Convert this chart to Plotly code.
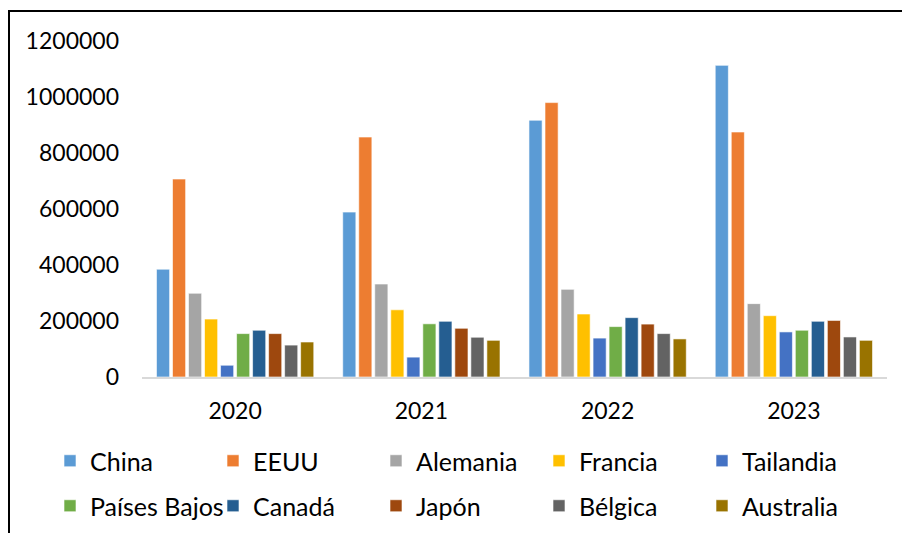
import plotly.graph_objects as go

# Annual values per country
years = ["2020", "2021", "2022", "2023"]
countries = ["China", "EEUU", "Alemania", "Francia", "Tailandia",
             "Países Bajos", "Canadá", "Japón", "Bélgica", "Australia"]

china = [385000, 589000, 917000, 1113000]
eeuu = [707000, 857000, 980000, 875000]
alemania = [299000, 332000, 313000, 262000]
francia = [207000, 240000, 225000, 219000]
tailandia = [42000, 71000, 139000, 161000]
paises_bajos = [155000, 190000, 180000, 167000]
canada = [167000, 199000, 212000, 199000]
japon = [155000, 174000, 189000, 202000]
belgica = [114000, 142000, 155000, 143000]
australia = [125000, 131000, 136000, 131000]

series = [china, eeuu, alemania, francia, tailandia,
          paises_bajos, canada, japon, belgica, australia]
colors = ["#5B9BD5", "#ED7D31", "#A5A5A5", "#FFC000", "#4472C4",
          "#70AD47", "#255E91", "#9E480E", "#636363", "#997300"]

W, H = 902, 533
ML, MR, MT, MB = 142, 15, 41, 156
PW, PH = W - ML - MR, H - MT - MB

def px_x(x):
    return (x - ML) / PW

def px_y(y):
    return (H - MB - y) / PH

FONT = "Lato, 'Century Gothic', sans-serif"

fig = go.Figure()
for i, (name, vals, col) in enumerate(zip(countries, series, colors)):
    fig.add_trace(go.Bar(
        x=years, y=vals, name=name,
        marker=dict(color=col, line=dict(color="rgba(255,255,255,0.6)", width=1)),
        legend="legend" if i < 5 else "legend2",
    ))

legend_common = dict(
    orientation="h", xanchor="left", yanchor="middle",
    font=dict(family=FONT, size=25, color="#000000"),
    entrywidth=118, entrywidthmode="pixels",
    bgcolor="rgba(0,0,0,0)", traceorder="normal",
)

fig.update_layout(
    width=W, height=H,
    margin=dict(l=ML, r=MR, t=MT, b=MB, autoexpand=False),
    paper_bgcolor="white", plot_bgcolor="white",
    barmode="group", bargap=0.14, bargroupgap=0.18,
    font=dict(family=FONT, size=23, color="#000000"),
    showlegend=True,
    legend=dict(x=px_x(50), y=px_y(461), **legend_common),
    legend2=dict(x=px_x(50), y=px_y(506), **legend_common),
    xaxis=dict(
        showline=True, linecolor="#D9D9D9", linewidth=2,
        showgrid=False, ticks="", ticklabelstandoff=12,
        tickfont=dict(family=FONT, size=23, color="#000000"),
    ),
    yaxis=dict(
        range=[0, 1200000], dtick=200000, tickformat="d",
        showgrid=False, zeroline=False, showline=False,
        ticks="", ticklabelstandoff=22,
        tickfont=dict(family=FONT, size=23, color="#000000"),
    ),
    shapes=[dict(
        type="rect", xref="paper", yref="paper",
        x0=px_x(9), x1=px_x(910), y0=px_y(540), y1=px_y(11),
        line=dict(color="#000000", width=2), fillcolor="rgba(0,0,0,0)",
        layer="above",
    )],
)

fig.write_html("out.html")
